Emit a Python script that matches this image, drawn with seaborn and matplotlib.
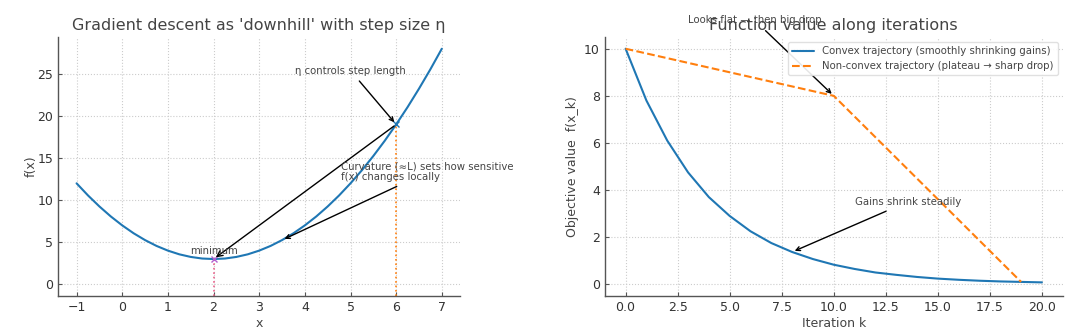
import numpy as np
import pandas as pd
import matplotlib
matplotlib.use("Agg")
import matplotlib.pyplot as plt
import seaborn as sns

# Left panel: objective along x
curve_x = [-1.0, -0.75, -0.5, -0.25, 0.0, 0.25, 0.5, 0.75, 1.0, 1.25, 1.5, 1.75,
           2.0, 2.25, 2.5, 2.75, 3.0, 3.25, 3.5, 3.75, 4.0, 4.25, 4.5, 4.75,
           5.0, 5.25, 5.5, 5.75, 6.0, 6.25, 6.5, 6.75, 7.0]
curve_f = [12.0, 10.56, 9.25, 8.06, 7.0, 6.06, 5.25, 4.56, 4.0, 3.56, 3.25, 3.06,
           3.0, 3.06, 3.25, 3.56, 4.0, 4.56, 5.25, 6.06, 7.0, 8.06, 9.25, 10.56,
           12.0, 13.56, 15.25, 17.06, 19.0, 21.06, 23.25, 25.56, 28.0]
start_x, start_f = 6.0, 19.0
min_x, min_f = 2.0, 3.0
curv_x, curv_f = 3.5, 5.25

# Right panel: objective along iterations
iters = list(range(21))
convex_vals = [10.0, 7.8, 6.1, 4.75, 3.7, 2.9, 2.25, 1.75, 1.37, 1.07, 0.83,
               0.65, 0.5, 0.4, 0.31, 0.24, 0.19, 0.15, 0.12, 0.1, 0.08]
nonconvex_iters = [0, 10, 19]
nonconvex_vals = [10.0, 8.0, 0.1]

sns.set_style("ticks")
text_col = "#444444"
plt.rcParams.update({
    "font.family": ["DejaVu Sans"],
    "axes.edgecolor": "#555555",
    "axes.linewidth": 1.0,
    "axes.labelcolor": text_col,
    "text.color": text_col,
    "xtick.color": "#555555",
    "ytick.color": "#555555",
    "xtick.labelcolor": "#333333",
    "ytick.labelcolor": "#333333",
    "xtick.direction": "in",
    "ytick.direction": "in",
    "xtick.labelsize": 9,
    "ytick.labelsize": 9,
    "axes.labelsize": 9,
})

fig = plt.figure(figsize=(10.8, 3.33), dpi=100)
ax1 = fig.add_axes([0.054, 0.111, 0.372, 0.778])
ax2 = fig.add_axes([0.560, 0.111, 0.424, 0.778])

blue = "#1f77b4"
orange = "#ff7f0e"
note_size = 7.3

for ax in (ax1, ax2):
    ax.grid(True, linestyle=":", color="#cccccc", linewidth=0.8)
    ax.set_axisbelow(True)
    sns.despine(ax=ax)
    ax.tick_params(length=3)

# ---- left panel ----
sns.lineplot(x=curve_x, y=curve_f, ax=ax1, color=blue, linewidth=1.5)
ax1.set_xlim(-1.4, 7.4)
ax1.set_ylim(-1.4, 29.4)
ybot = ax1.get_ylim()[0]
ax1.vlines(start_x, ybot, start_f, colors=orange, linestyles=":", linewidth=1.2)
ax1.vlines(min_x, ybot, min_f, colors="#e8608a", linestyles=":", linewidth=1.2)
ax1.plot([start_x], [start_f], marker="x", color=blue, markersize=5, linestyle="none")
ax1.plot([min_x], [min_f], marker="x", color="#b460d0", markersize=5, linestyle="none")

ax1.annotate("", xy=(min_x, min_f), xytext=(start_x, start_f),
             arrowprops=dict(arrowstyle="->", color="black", lw=1.0))
ax1.annotate("η controls step length", xy=(start_x, start_f), xytext=(5.0, 25.4),
             ha="center", va="center", fontsize=note_size,
             arrowprops=dict(arrowstyle="->", color="black", lw=1.0))
ax1.annotate("Curvature (≈L) sets how sensitive\nf(x) changes locally",
             xy=(curv_x, curv_f), xytext=(4.8, 13.35), ha="left", va="center",
             fontsize=note_size, linespacing=1.0,
             arrowprops=dict(arrowstyle="->", color="black", lw=1.0))
ax1.text(min_x, min_f + 0.4, "minimum", ha="center", va="bottom", fontsize=note_size)

ax1.set_xticks(range(-1, 8))
ax1.set_yticks([0, 5, 10, 15, 20, 25])
ax1.set_xlabel("x", labelpad=2)
ax1.set_ylabel("f(x)", labelpad=0)
ax1.set_title("Gradient descent as 'downhill' with step size η", fontsize=11.5,
              color=text_col, pad=5)

# ---- right panel ----
sns.lineplot(x=iters, y=convex_vals, ax=ax2, color=blue, linewidth=1.5,
             label="Convex trajectory (smoothly shrinking gains)")
sns.lineplot(x=nonconvex_iters, y=nonconvex_vals, ax=ax2, color=orange,
             linewidth=1.5, linestyle="--",
             label="Non-convex trajectory (plateau → sharp drop)")
ax2.set_xlim(-1, 21)
ax2.set_ylim(-0.5, 10.5)
ax2.set_xticks(np.arange(0, 20.1, 2.5))
ax2.set_yticks([0, 2, 4, 6, 8, 10])

ax2.annotate("Looks flat — then big drop", xy=(nonconvex_iters[1], nonconvex_vals[1]),
             xytext=(3.0, 11.2), ha="left", va="center", fontsize=note_size,
             annotation_clip=False,
             arrowprops=dict(arrowstyle="->", color="black", lw=1.0))
ax2.annotate("Gains shrink steadily", xy=(8, convex_vals[8]), xytext=(11.0, 3.5),
             ha="left", va="center", fontsize=note_size,
             arrowprops=dict(arrowstyle="->", color="black", lw=1.0))

ax2.set_xlabel("Iteration k", labelpad=2)
ax2.set_ylabel("Objective value  f(x_k)", labelpad=4)
ax2.set_title("Function value along iterations", fontsize=11.5, color=text_col, pad=5)
leg = ax2.legend(loc="upper right", fontsize=note_size, frameon=True, framealpha=0.9,
                 edgecolor="#dddddd", borderpad=0.4, handlelength=2.2)

fig.savefig("out.png", dpi=100)
